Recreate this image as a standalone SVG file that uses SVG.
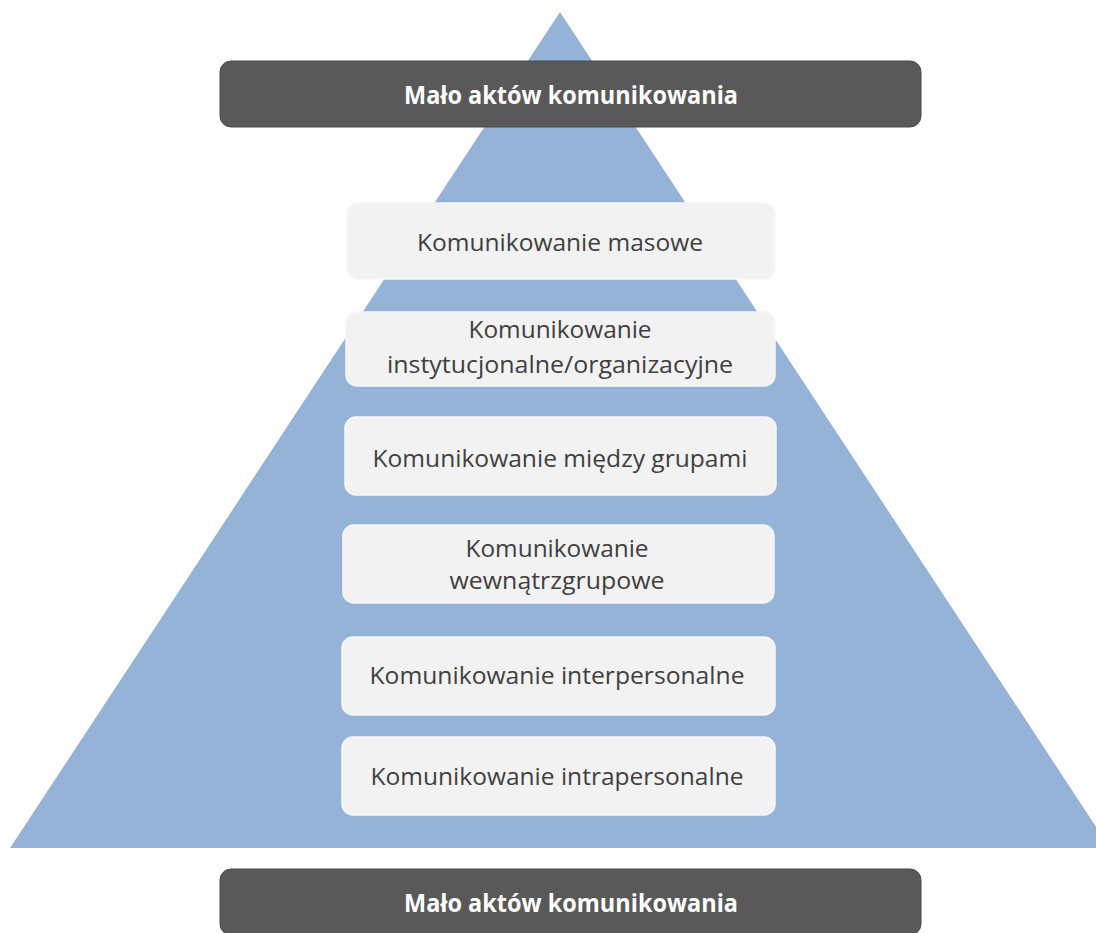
<svg xmlns="http://www.w3.org/2000/svg" width="1096" height="933" viewBox="0 0 1096 933">
  <defs>
    <style>
      .pyramid { fill: #95B3D7; }
      .band { fill: #595959; stroke: #4a4a4a; stroke-width: 1; }
      .band-text { fill: #ffffff; font-family: "Open Sans", "Liberation Sans", sans-serif; font-weight: bold; font-size: 25px; text-anchor: middle; }
      .level { fill: #F2F2F2; stroke: #f7f7f7; stroke-width: 1.5; }
      .level-text { fill: #404040; font-family: "Open Sans", "Liberation Sans", sans-serif; font-size: 23px; text-anchor: middle; }
    </style>
  </defs>

  <rect x="0" y="0" width="1096" height="933" fill="#ffffff"/>

  <!-- background pyramid -->
  <polygon id="pyramid" class="pyramid" points="560,12 10,848 1110,848"/>

  <!-- top and bottom bands -->
  <g id="band-top">
    <rect class="band" x="220" y="61" width="701" height="66" rx="11"/>
    <text class="band-text" x="571" y="104" textLength="334" lengthAdjust="spacingAndGlyphs">Mało aktów komunikowania</text>
  </g>
  <g id="band-bottom">
    <rect class="band" x="220" y="869" width="701" height="66" rx="11"/>
    <text class="band-text" x="571" y="912" textLength="334" lengthAdjust="spacingAndGlyphs">Mało aktów komunikowania</text>
  </g>

  <!-- pyramid levels -->
  <g id="level-masowe">
    <rect class="level" x="347" y="203" width="428" height="76" rx="11"/>
    <text class="level-text" x="560" y="251" textLength="286" lengthAdjust="spacingAndGlyphs">Komunikowanie masowe</text>
  </g>
  <g id="level-instytucjonalne">
    <rect class="level" x="346" y="312" width="429" height="74" rx="11"/>
    <text class="level-text" x="560" y="338" textLength="183" lengthAdjust="spacingAndGlyphs">Komunikowanie</text>
    <text class="level-text" x="560" y="373" textLength="346" lengthAdjust="spacingAndGlyphs">instytucjonalne/organizacyjne</text>
  </g>
  <g id="level-miedzygrupowe">
    <rect class="level" x="345" y="417" width="431" height="78" rx="11"/>
    <text class="level-text" x="560" y="467" textLength="375" lengthAdjust="spacingAndGlyphs">Komunikowanie między grupami</text>
  </g>
  <g id="level-wewnatrzgrupowe">
    <rect class="level" x="343" y="525" width="431" height="78" rx="11"/>
    <text class="level-text" x="557" y="557" textLength="183" lengthAdjust="spacingAndGlyphs">Komunikowanie</text>
    <text class="level-text" x="557" y="589" textLength="215" lengthAdjust="spacingAndGlyphs">wewnątrzgrupowe</text>
  </g>
  <g id="level-interpersonalne">
    <rect class="level" x="342" y="637" width="433" height="78" rx="11"/>
    <text class="level-text" x="557" y="684" textLength="375" lengthAdjust="spacingAndGlyphs">Komunikowanie interpersonalne</text>
  </g>
  <g id="level-intrapersonalne">
    <rect class="level" x="342" y="737" width="433" height="78" rx="11"/>
    <text class="level-text" x="557" y="785" textLength="373" lengthAdjust="spacingAndGlyphs">Komunikowanie intrapersonalne</text>
  </g>

  <!-- no connectors in this figure -->
  <g id="connectors"/>
</svg>
